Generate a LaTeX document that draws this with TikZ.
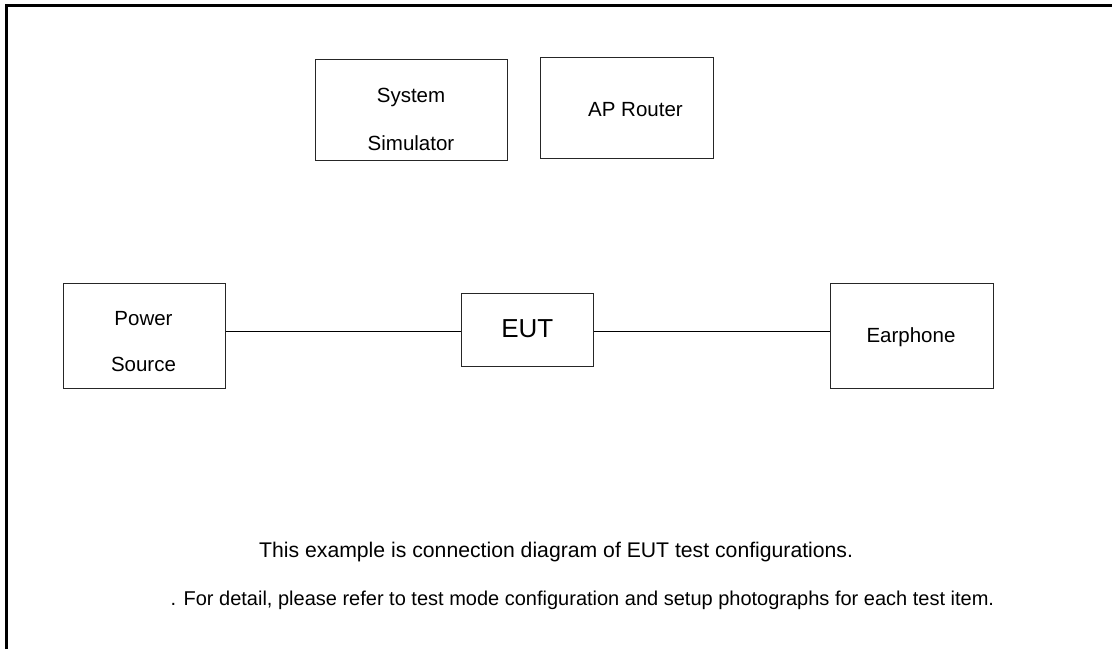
\documentclass[tikz,border=0pt]{standalone}
\usepackage{fontspec}
\setmainfont{Liberation Sans}
\begin{document}
\begin{tikzpicture}[x=1pt,y=-1pt,
  boxnode/.style={draw=black!85,line width=1.1pt,inner sep=0pt,anchor=north west},
  lbl/.style={anchor=base,inner sep=0pt,font=\fontsize{20.5}{24}\selectfont},
  eutlbl/.style={anchor=base,inner sep=0pt,font=\fontsize{26}{30}\selectfont},
  note/.style={inner sep=0pt},
  wire/.style={line width=1.4pt,black}]
\useasboundingbox (0,0) rectangle (1112,649);
% outer frame (left and top edges)
\coordinate (fb) at (6.5,649);
\coordinate (ftl) at (6.5,5.3);
\coordinate (ftr) at (1112,5.3);
\draw[line width=2.6pt,line cap=butt,line join=miter] (fb) -- (ftl) -- (ftr);
% boxes
\node[boxnode,minimum width=192pt,minimum height=101pt] (sim) at (315,59) {};
\node[boxnode,minimum width=173pt,minimum height=101pt] (ap) at (540,57) {};
\node[boxnode,minimum width=162pt,minimum height=105pt] (ps) at (62.5,282.5) {};
\node[boxnode,minimum width=132pt,minimum height=72.5pt] (eut) at (461.3,293) {};
\node[boxnode,minimum width=163pt,minimum height=105pt] (ear) at (830,282.5) {};
% labels
\node[lbl] (simA) at (411,102.7) {System};
\node[lbl] (simB) at (411,150) {Simulator};
\node[lbl] (apl) at (635.5,116) {AP Router};
\node[lbl] (psA) at (143.5,325) {Power};
\node[lbl] (psB) at (143.5,371.7) {Source};
\node[eutlbl] (eutl) at (527.3,337.7) {EUT};
\node[lbl] (earl) at (911,342) {Earphone};
% connectors
\coordinate (wy) at (0,331.7);
\draw[wire] (ps.east |- wy) -- (eut.west |- wy);
\draw[wire] (eut.east |- wy) -- (ear.west |- wy);
% notes
\node[note,anchor=base west,font=\fontsize{21.2}{25}\selectfont] (n1) at (259,557) {This example is connection diagram of EUT test configurations.};
\node[note,anchor=base east,font=\fontsize{20}{24}\selectfont] (n2) at (994.3,605) {. For detail, please refer to test mode configuration and setup photographs for each test item.};
\end{tikzpicture}
\end{document}
